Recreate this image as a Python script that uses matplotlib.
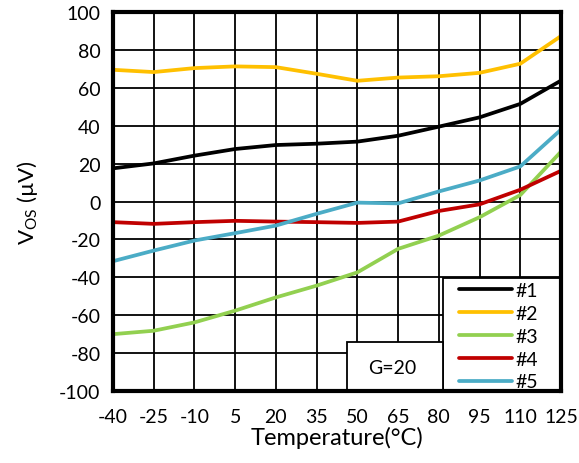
import matplotlib
matplotlib.use("Agg")
import matplotlib.pyplot as plt
from matplotlib.patches import Rectangle

plt.rcParams['font.family'] = ['Lato', 'DejaVu Sans']
plt.rcParams['axes.unicode_minus'] = False

temps = [-40, -25, -10, 5, 20, 35, 50, 65, 80, 95, 110, 125]
s1 = [17.5, 20.1, 24.2, 27.7, 29.8, 30.5, 31.6, 34.7, 39.5, 44.4, 51.5, 63.8]
s2 = [69.5, 68.3, 70.4, 71.3, 70.9, 67.4, 63.7, 65.4, 66.1, 67.9, 72.7, 87.3]
s3 = [-70.0, -68.2, -63.8, -57.6, -50.6, -44.4, -37.4, -25.0, -18.0, -8.3, 3.4, 26.3]
s4 = [-10.9, -11.8, -10.9, -10.2, -10.6, -10.9, -11.3, -10.6, -5.0, -1.5, 6.2, 16.2]
s5 = [-31.5, -25.9, -20.6, -16.7, -12.7, -6.5, -0.6, -1.0, 5.3, 11.1, 18.5, 37.9]
labels = ['#1', '#2', '#3', '#4', '#5']
colors = ['#000000', '#FFC000', '#92D050', '#C00000', '#4BACC6']
yticks = list(range(-100, 101, 20))
gain_text = 'G=20'

W, H = 579, 464
def fx(px):
    return px / W
def fy(py):
    return 1 - py / H

fig = plt.figure(figsize=(W / 100, H / 100), dpi=100)
ax = fig.add_axes([fx(113), fy(392), (561 - 113) / W, (392 - 13) / H])

series = [s1, s2, s3, s4, s5]
for s, c, l in zip(series, colors, labels):
    ax.plot(temps, s, color=c, lw=2.7, label=l, solid_capstyle='round', zorder=3)

ax.set_xlim(-40, 125)
ax.set_ylim(-100, 100)
ax.set_xticks(temps)
ax.set_yticks(yticks)
ax.tick_params(length=0, labelsize=14)
ax.tick_params(axis='x', pad=12)
ax.tick_params(axis='y', pad=9)
ax.grid(True, color='black', lw=1.3, zorder=1)
ax.set_axisbelow(True)
for sp in ax.spines.values():
    sp.set_linewidth(3)
    sp.set_zorder(6)

ax.set_xlabel('Temperature(°C)', fontsize=17, labelpad=1)
ax.set_ylabel('V$_{\\mathregular{OS}}$ (µV)', fontsize=16, labelpad=14)

# legend box
ax.add_patch(Rectangle((fx(443), fy(392)), (561 - 443) / W, (392 - 279) / H,
                       transform=fig.transFigure, facecolor='white', edgecolor='black',
                       lw=1.3, zorder=4))
leg = ax.legend(loc='upper left', bbox_to_anchor=(fx(459), fy(283)),
                bbox_transform=fig.transFigure, fontsize=14, frameon=False,
                borderpad=0, labelspacing=0.3, handlelength=2.75,
                handletextpad=0.15, borderaxespad=0)
leg.set_zorder(5)

# gain box
ax.add_patch(Rectangle((fx(347), fy(392)), (443 - 347) / W, (392 - 343) / H,
                       transform=fig.transFigure, facecolor='white', edgecolor='black',
                       lw=1.3, zorder=4))
ax.text(fx(392), fy(368), gain_text, transform=fig.transFigure, fontsize=14,
        ha='center', va='center', zorder=6)

fig.savefig('out.png', dpi=100)
